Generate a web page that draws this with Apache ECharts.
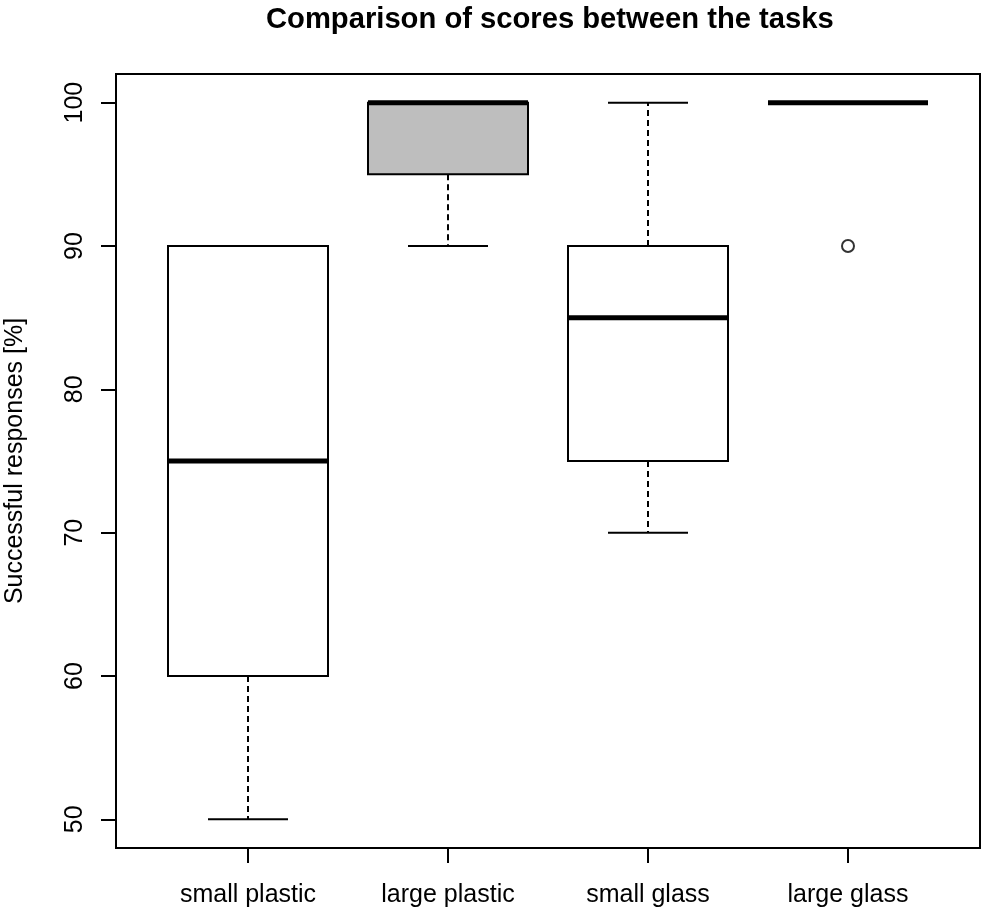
<!DOCTYPE html>
<html><head><meta charset="utf-8">
<script src="https://cdn.jsdelivr.net/npm/echarts@6/dist/echarts.min.js"></script>
<style>html,body{margin:0;padding:0;background:#fff}#c{width:983px;height:910px}</style>
</head><body><div id="c"></div>
<script>
const categories = ['small plastic', 'large plastic', 'small glass', 'large glass'];
// [min, Q1, median, Q3, max]
const boxStats = [
  [50, 60, 75, 90, 90],
  [90, 95, 100, 100, 100],
  [70, 75, 85, 90, 100],
  [100, 100, 100, 100, 100]
];
const boxFills = ['#ffffff', '#bebebe', '#ffffff', '#ffffff'];
const outliers = [[4, 90]];
const yTicks = [50, 60, 70, 80, 90, 100];
const xTicks = [1, 2, 3, 4];

const FONT = '"Liberation Sans", Arial, Helvetica, sans-serif';
const chart = echarts.init(document.getElementById('c'));

const boxData = boxStats.map((s, i) => [i + 1].concat(s));

chart.setOption({
  animation: false,
  backgroundColor: '#fff',
  title: {
    text: 'Comparison of scores between the tasks',
    left: 261, top: 0,
    textStyle: { fontFamily: FONT, fontWeight: 'bold', fontSize: 29.2, color: '#000' }
  },
  grid: { left: 116, right: 3, top: 74, bottom: 62, show: true, borderColor: '#000', borderWidth: 2, backgroundColor: 'transparent', containLabel: false, outerBoundsMode: 'none' },
  xAxis: {
    type: 'value', min: 0.34, max: 4.66,
    splitLine: { show: false },
    axisLine: { show: false },
    axisTick: { show: true, length: 15, customValues: xTicks, lineStyle: { color: '#000', width: 2 } },
    axisLabel: {
      customValues: xTicks, margin: 35,
      fontFamily: FONT, fontSize: 25, color: '#000',
      formatter: v => categories[Math.round(v) - 1] || ''
    }
  },
  yAxis: {
    type: 'value', min: 48, max: 102,
    name: 'Successful responses [%]', nameLocation: 'middle', nameRotate: 90, nameGap: 88,
    nameTextStyle: { fontFamily: FONT, fontSize: 25, color: '#000' },
    splitLine: { show: false },
    axisLine: { show: false },
    axisTick: { show: true, length: 15, customValues: yTicks, lineStyle: { color: '#000', width: 2 } },
    axisLabel: {
      customValues: yTicks, rotate: 90, margin: 28,
      fontFamily: FONT, fontSize: 25, color: '#000'
    }
  },
  series: [
    {
      type: 'custom',
      data: boxData,
      encode: { x: 0, y: [1, 2, 3, 4, 5] },
      renderItem: function (params, api) {
        const x = api.value(0);
        const mn = api.value(1), q1 = api.value(2), md = api.value(3), q3 = api.value(4), mx = api.value(5);
        const hw = 0.4, cw = 0.2;
        const pMin = api.coord([x, mn]), pMax = api.coord([x, mx]);
        const pQ1 = api.coord([x, q1]), pQ3 = api.coord([x, q3]);
        const bl = api.coord([x - hw, q1]), tr = api.coord([x + hw, q3]);
        const mL = api.coord([x - hw, md]), mR = api.coord([x + hw, md]);
        const cL1 = api.coord([x - cw, mn]), cR1 = api.coord([x + cw, mn]);
        const cL2 = api.coord([x - cw, mx]), cR2 = api.coord([x + cw, mx]);
        const lineStyle = { stroke: '#000', lineWidth: 2 };
        const children = [];
        if (mx > q3) children.push({ type: 'line', shape: { x1: pQ3[0], y1: pQ3[1], x2: pMax[0], y2: pMax[1] }, style: Object.assign({ lineDash: [6, 4] }, lineStyle) });
        if (mn < q1) children.push({ type: 'line', shape: { x1: pQ1[0], y1: pQ1[1], x2: pMin[0], y2: pMin[1] }, style: Object.assign({ lineDash: [6, 4] }, lineStyle) });
        children.push({ type: 'line', shape: { x1: cL1[0], y1: cL1[1], x2: cR1[0], y2: cR1[1] }, style: lineStyle });
        children.push({ type: 'line', shape: { x1: cL2[0], y1: cL2[1], x2: cR2[0], y2: cR2[1] }, style: lineStyle });
        children.push({
          type: 'rect',
          shape: { x: bl[0], y: tr[1], width: tr[0] - bl[0], height: bl[1] - tr[1] },
          style: { fill: boxFills[params.dataIndex], stroke: '#000', lineWidth: 2 }
        });
        children.push({ type: 'line', shape: { x1: mL[0], y1: mL[1], x2: mR[0], y2: mR[1] }, style: { stroke: '#000', lineWidth: 5 } });
        return { type: 'group', children: children };
      }
    },
    {
      type: 'scatter',
      data: outliers,
      symbol: 'circle',
      symbolSize: 12,
      itemStyle: { color: '#fff', borderColor: '#000', borderWidth: 2 }
    }
  ]
});
</script></body></html>
